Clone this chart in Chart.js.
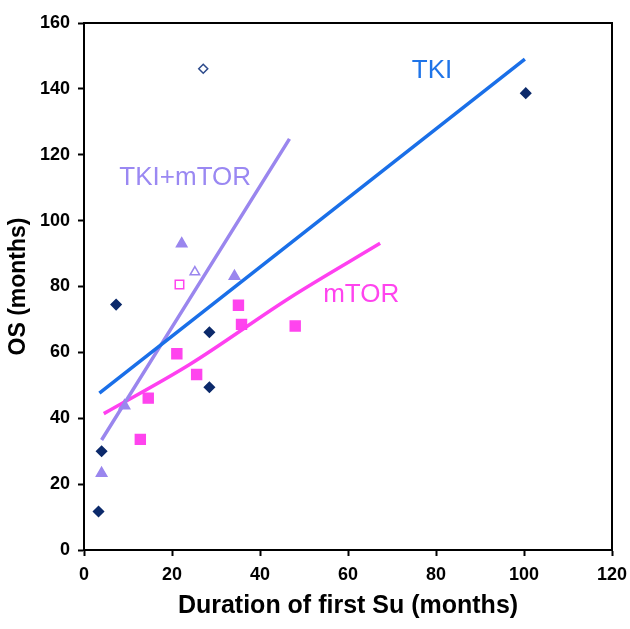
<!DOCTYPE html>
<html>
<head>
<meta charset="utf-8">
<script src="https://cdn.jsdelivr.net/npm/chart.js@4/dist/chart.umd.min.js"></script>
<style>
html,body{margin:0;padding:0;background:#fff;}
#caja{width:630px;height:629px;}
</style>
</head>
<body>
<div id="caja"><canvas id="grafico"></canvas></div>
<script>
// puntos
var tkiX = [3.3, 4.0, 7.3, 28.5, 28.5, 100.4];
var tkiY = [11.7, 30.0, 74.5, 49.4, 66.1, 138.7];
var tkiHuecoX = [27.1];
var tkiHuecoY = [146.1];
var combX = [4.0, 9.2, 22.2, 34.2];
var combY = [23.3, 43.8, 93.0, 83.1];
var combHuecoX = [25.2];
var combHuecoY = [84.4];
var mtorX = [12.8, 14.6, 21.1, 25.6, 35.1, 35.8, 48.0];
var mtorY = [33.6, 46.1, 59.6, 53.3, 74.3, 68.5, 68.0];
var mtorHuecoX = [21.7];
var mtorHuecoY = [80.6];
// lineas de tendencia
var lineaTkiX = [3.5, 100.2];
var lineaTkiY = [47.6, 149.0];
var lineaCombX = [4.0, 46.7];
var lineaCombY = [33.4, 124.8];
var lineaMtorX = [4.5, 24.1, 46.8, 67.3];
var lineaMtorY = [41.4, 56.4, 76.6, 93.1];
var xTicks = [0, 20, 40, 60, 80, 100, 120];
var yTicks = [0, 20, 40, 60, 80, 100, 120, 140, 160];

var fuente = "'Liberation Sans', Arial, sans-serif";

function puntos(X, Y) {
  var p = [];
  for (var i = 0; i < X.length; i++) {
    p.push({x: X[i], y: Y[i]});
  }
  return p;
}

function serie(X, Y, estilo, radio, relleno, borde) {
  return {
    data: puntos(X, Y),
    showLine: false,
    pointStyle: estilo,
    pointRadius: radio,
    pointHoverRadius: radio,
    pointBackgroundColor: relleno,
    pointBorderColor: borde,
    pointBorderWidth: 1.5
  };
}

function linea(X, Y, color) {
  return {
    data: puntos(X, Y),
    showLine: true,
    borderColor: color,
    borderWidth: 3.5,
    pointRadius: 0,
    cubicInterpolationMode: 'monotone',
    fill: false
  };
}

var textos = {
  id: 'textos',
  afterDatasetsDraw: function(chart) {
    var c = chart.ctx, a = chart.chartArea;
    var sx = chart.scales.x, sy = chart.scales.y;
    c.save();
    c.strokeStyle = '#000';
    c.lineWidth = 2;
    c.beginPath();
    c.moveTo(a.left, a.top);
    c.lineTo(a.right, a.top);
    c.lineTo(a.right, a.bottom);
    c.stroke();
    c.font = "26px " + fuente;
    c.textAlign = 'center';
    c.textBaseline = 'middle';
    c.fillStyle = '#1f74e8';
    c.fillText('TKI', sx.getPixelForValue(79.1), sy.getPixelForValue(145.5));
    c.fillStyle = '#9a88f2';
    c.fillText('TKI+mTOR', sx.getPixelForValue(23.0), sy.getPixelForValue(113));
    c.fillStyle = '#ff44ee';
    c.fillText('mTOR', sx.getPixelForValue(63.0), sy.getPixelForValue(77.6));
    c.restore();
  }
};

new Chart(document.getElementById('grafico'), {
  type: 'scatter',
  data: {
    datasets: [
      linea(lineaTkiX, lineaTkiY, '#1a6fe8'),
      linea(lineaCombX, lineaCombY, '#9a86ee'),
      linea(lineaMtorX, lineaMtorY, '#ff40f0'),
      serie(tkiX, tkiY, 'rectRot', 5, '#0c2a6b', '#0c2a6b'),
      serie(tkiHuecoX, tkiHuecoY, 'rectRot', 4.5, '#ffffff', '#2c4a8b'),
      serie(combX, combY, 'triangle', 6, '#9a86ee', '#9a86ee'),
      serie(combHuecoX, combHuecoY, 'triangle', 5.5, '#ffffff', '#9a86ee'),
      serie(mtorX, mtorY, 'rect', 7, '#ff44ee', '#ff44ee'),
      serie(mtorHuecoX, mtorHuecoY, 'rect', 6, '#ffffff', '#ff44ee')
    ]
  },
  options: {
    responsive: true,
    maintainAspectRatio: false,
    animation: false,
    layout: { padding: { top: 23, right: 18, left: 0, bottom: 0 } },
    plugins: {
      legend: { display: false },
      tooltip: { enabled: false },
      title: { display: false }
    },
    scales: {
      x: {
        type: 'linear',
        min: 0, max: 120,
        afterBuildTicks: function(s) { s.ticks = xTicks.map(function(v){ return {value: v}; }); },
        afterFit: function(s) { s.height = 79; s.paddingLeft = 0; s.paddingRight = 0; },
        grid: { drawOnChartArea: false, drawTicks: true, tickLength: 6, color: '#000', tickWidth: 2 },
        border: { color: '#000', width: 2 },
        ticks: { color: '#000', padding: 8, font: { family: fuente, size: 18, weight: 'bold' } },
        title: { display: true, text: 'Duration of first Su (months)', color: '#000', padding: { top: 8, bottom: 8 }, font: { family: fuente, size: 25, weight: 'bold' } }
      },
      y: {
        type: 'linear',
        min: 0, max: 160,
        afterBuildTicks: function(s) { s.ticks = yTicks.map(function(v){ return {value: v}; }); },
        afterFit: function(s) { s.width = 84; s.paddingTop = 0; s.paddingBottom = 0; },
        grid: { drawOnChartArea: false, drawTicks: true, tickLength: 6, color: '#000', tickWidth: 2 },
        border: { color: '#000', width: 2 },
        ticks: { color: '#000', padding: 8, font: { family: fuente, size: 18, weight: 'bold' } },
        title: { display: true, text: 'OS (months)', color: '#000', padding: { top: 5, bottom: 4 }, font: { family: fuente, size: 23, weight: 'bold' } }
      }
    }
  },
  plugins: [textos]
});
</script>
</body>
</html>
